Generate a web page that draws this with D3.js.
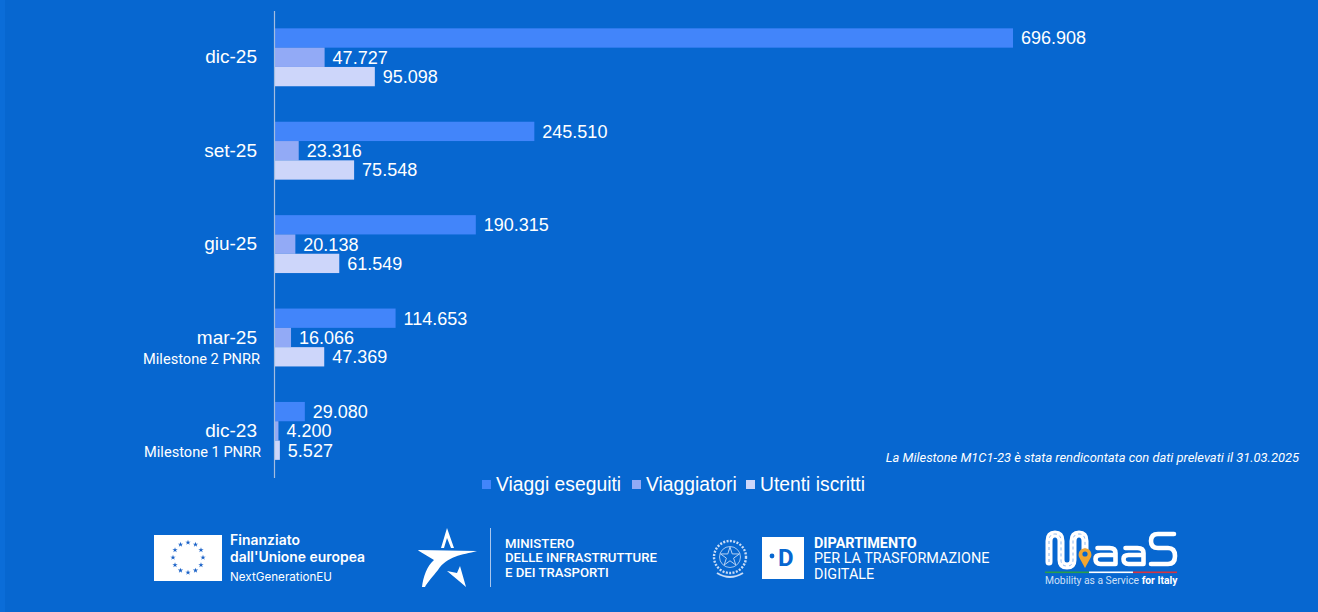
<!DOCTYPE html>
<html lang="it">
<head>
<meta charset="utf-8">
<script src="https://cdn.jsdelivr.net/npm/d3@7/dist/d3.min.js"></script>
<style>
  html, body { margin: 0; padding: 0; background: #0767d0; }
  svg { display: block; }
  text { fill: #fff; }
</style>
</head>
<body>
<svg id="chart" width="1318" height="612"></svg>
<script>
// Adesioni alla piattaforma MaaS per trimestre
const periods = ["dic-25", "set-25", "giu-25", "mar-25", "dic-23"];
const seriesNames = ["Viaggi eseguiti", "Viaggiatori", "Utenti iscritti"];
const viaggiEseguiti = [696908, 245510, 190315, 114653, 29080];
const viaggiatori = [47727, 23316, 20138, 16066, 4200];
const utentiIscritti = [95098, 75548, 61549, 47369, 5527];
const seriesValues = [viaggiEseguiti, viaggiatori, utentiIscritti];
const seriesColors = ["#4285fa", "#92aaf6", "#cdd6fa"];
const milestoneLabels = [
  { period: "mar-25", text: "Milestone 2 PNRR" },
  { period: "dic-23", text: "Milestone 1 PNRR" }
];
const footnote = "La Milestone M1C1-23 è stata rendicontata con dati prelevati il 31.03.2025";

const ARIAL = "'Liberation Sans', Arial, sans-serif";
const TITILLIUM = "Roboto, 'Noto Sans', sans-serif";
const itNumber = d3.formatLocale({ decimal: ",", thousands: ".", grouping: [3], currency: ["€", ""] }).format(",d");

const svg = d3.select("#chart");
svg.append("rect").attr("width", 1318).attr("height", 612).attr("fill", "#0767d0");
svg.append("rect").attr("width", 5).attr("height", 612).attr("fill", "#0b6dd8");

const x = d3.scaleLinear().domain([0, 696908]).range([274, 1013]);
const y = d3.scaleBand().domain(periods).range([10.6, 477.6]).paddingInner(0.38).paddingOuter(0.19);
const yInner = d3.scaleBand().domain(seriesNames).range([0, y.bandwidth()]);

// Barre raggruppate con etichetta del valore
const groups = svg.append("g").selectAll("g").data(periods).join("g")
  .attr("transform", d => `translate(0,${y(d)})`);

seriesNames.forEach((name, s) => {
  groups.append("rect")
    .attr("x", x(0))
    .attr("y", yInner(name))
    .attr("width", (d, i) => x(seriesValues[s][i]) - x(0))
    .attr("height", yInner.bandwidth())
    .attr("fill", seriesColors[s]);
  groups.append("text")
    .attr("x", (d, i) => x(seriesValues[s][i]) + 8)
    .attr("y", yInner(name) + yInner.bandwidth() / 2)
    .attr("dy", "0.36em")
    .attr("font-family", ARIAL)
    .attr("font-size", 18)
    .text((d, i) => itNumber(seriesValues[s][i]));
});

// Asse delle categorie
const axis = svg.append("g")
  .attr("transform", `translate(${x(0)},0)`)
  .call(d3.axisLeft(y).tickSize(0).tickPadding(17));
axis.select(".domain").attr("stroke", "#a4bde0").attr("stroke-width", 1.2);
axis.selectAll("text")
  .attr("font-family", ARIAL)
  .attr("font-size", 19)
  .attr("fill", "#fff");

// Sottotitoli delle milestone sotto la categoria
svg.append("g").selectAll("text").data(milestoneLabels).join("text")
  .attr("x", (d, i) => i === 0 ? 260 : 261)
  .attr("y", d => y(d.period) + y.bandwidth() / 2 + 26)
  .attr("text-anchor", "end")
  .attr("font-family", TITILLIUM)
  .attr("font-size", 14.6)
  .attr("fill", "#dfe9fa")
  .text(d => d.text);

svg.append("text")
  .attr("x", 1299).attr("y", 462)
  .attr("text-anchor", "end")
  .attr("font-family", TITILLIUM)
  .attr("font-style", "italic")
  .attr("font-size", 12.9)
  .text(footnote);

// Legenda
const legendItems = [
  { name: seriesNames[0], sw: 482, tx: 496 },
  { name: seriesNames[1], sw: 632, tx: 646 },
  { name: seriesNames[2], sw: 746, tx: 760 }
];
const legend = svg.append("g").selectAll("g").data(legendItems).join("g");
legend.append("rect")
  .attr("x", d => d.sw).attr("y", 480).attr("width", 9).attr("height", 9)
  .attr("fill", (d, i) => seriesColors[i]);
legend.append("text")
  .attr("x", d => d.tx).attr("y", 491)
  .attr("font-family", ARIAL).attr("font-size", 19.3)
  .text(d => d.name);

// Loghi del piede di pagina
const logos = svg.append("g");

// Bandiera UE con dodici stelle
const euStars = d3.range(12);
logos.append("rect").attr("x", 154).attr("y", 535).attr("width", 68).attr("height", 46).attr("fill", "#fff");
logos.append("g").selectAll("path").data(euStars).join("path")
  .attr("d", d3.symbol(d3.symbolStar, 9))
  .attr("fill", "#1a62c8")
  .attr("transform", d => {
    const a = d / 12 * 2 * Math.PI;
    return `translate(${188 + 15 * Math.sin(a)},${557.5 - 15 * Math.cos(a)})`;
  });
const euText = logos.append("g").attr("font-family", "Inter, Roboto, sans-serif");
euText.append("text").attr("x", 230).attr("y", 545).attr("font-size", 13.9).attr("font-weight", 600).attr("textLength", 70).text("Finanziato");
euText.append("text").attr("x", 230).attr("y", 562).attr("font-size", 13.9).attr("font-weight", 600).attr("textLength", 135).text("dall'Unione europea");
euText.append("text").attr("x", 230).attr("y", 581).attr("font-size", 11.6).attr("fill", "#e0ebfb").attr("textLength", 102).text("NextGenerationEU");

// Stella del Ministero
const mit = logos.append("g").attr("fill", "#fff");
mit.append("path").attr("d", "M447 528 L454 548 L451 548 L447 538 L444 548 L441 548 Z");
mit.append("path").attr("d", "M418 550 L477 551 C462 555 447 556 438 570 C433 576 427 583 425 587 L422 587 C423 577 427 566 434 560 L419 551 Z");
mit.append("path").attr("d", "M447 571 L457 573 L460 566 L466 587 L459 581 Z");
logos.append("rect").attr("x", 490).attr("y", 528).attr("width", 1).attr("height", 59).attr("fill", "#a9c6ee");
const mitText = logos.append("g").attr("font-family", TITILLIUM).attr("font-weight", 500).attr("font-size", 13.2);
mitText.append("text").attr("x", 505).attr("y", 548).text("MINISTERO");
mitText.append("text").attr("x", 505).attr("y", 562).text("DELLE INFRASTRUTTURE");
mitText.append("text").attr("x", 505).attr("y", 577).text("E DEI TRASPORTI");

// Emblema della Repubblica
const emblem = logos.append("g").attr("transform", "translate(730,557)").attr("fill", "none").attr("stroke", "#c9dcf6");
emblem.append("circle").attr("r", 16).attr("stroke-width", 2.4).attr("stroke-dasharray", "2 1.4");
emblem.append("circle").attr("r", 10.5).attr("stroke-width", 0.8);
emblem.append("path").attr("d", d3.symbol(d3.symbolStar, 110)).attr("stroke-width", 0.9);
emblem.append("path").attr("d", "M-13 16 Q0 24 13 16").attr("stroke-width", 2);

// Marchio del Dipartimento
logos.append("rect").attr("x", 762).attr("y", 537).attr("width", 42).attr("height", 42).attr("fill", "#fff");
logos.append("circle").attr("cx", 772).attr("cy", 556).attr("r", 2.4).attr("fill", "#0767d0");
logos.append("text").attr("x", 778).attr("y", 566).attr("font-family", TITILLIUM).attr("font-weight", 700)
  .attr("font-size", 24).attr("style", "fill:#0767d0").text("D");
const dtdText = logos.append("g").attr("font-family", TITILLIUM).attr("font-size", 14.4);
dtdText.append("text").attr("x", 814).attr("y", 548).attr("font-weight", 700).text("DIPARTIMENTO");
dtdText.append("text").attr("x", 814).attr("y", 563).attr("fill", "#bcd4f4").text("PER LA TRASFORMAZIONE");
dtdText.append("text").attr("x", 814).attr("y", 579).attr("fill", "#bcd4f4").text("DIGITALE");

// Marchio MaaS: strada a forma di M, segnaposto, lettere e tricolore
const maas = logos.append("g");
const roadPath = "M1049 562 V541 Q1049 534 1055 534 Q1061 534 1061 541 V560 Q1061 566 1067 566 Q1073 566 1073 560 V541 Q1073 534 1079 534 Q1085 534 1085 541 V549";
maas.append("path").attr("d", roadPath)
  .attr("fill", "none").attr("stroke", "#fff").attr("stroke-width", 7).attr("stroke-linecap", "round");
maas.append("path").attr("d", roadPath)
  .attr("fill", "none").attr("stroke", "#7fb0ec").attr("stroke-width", 0.9).attr("stroke-dasharray", "3 3");
maas.append("path").attr("d", "M1085 568 L1079 557 A6.4 6.4 0 1 1 1091 557 Z").attr("fill", "#f2a531");
maas.append("circle").attr("cx", 1085).attr("cy", 554).attr("r", 2.6).attr("fill", "#0767d0");
// Due lettere "a" e una "S" a tratto arrotondato
const glyphStyle = sel => sel.attr("fill", "none").attr("stroke", "#fff").attr("stroke-width", 4.6)
  .attr("stroke-linecap", "round").attr("stroke-linejoin", "round");
[1095.5, 1123.5].forEach(ox => {
  maas.append("path").call(glyphStyle)
    .attr("d", `M${ox + 2} 548 H${ox + 14} Q${ox + 20} 548 ${ox + 20} 553 V564 H${ox + 5} Q${ox} 564 ${ox} 559 Q${ox} 555 ${ox + 5} 555 H${ox + 20}`);
});
maas.append("path").call(glyphStyle)
  .attr("d", "M1174 534 H1158 Q1151 534 1151 541 Q1151 548 1158 548 H1168 Q1175 548 1175 556 Q1175 564 1168 564 H1151");
[["#2a9d4a", 1045], ["#ffffff", 1089], ["#d8343f", 1133]].forEach(([c, start]) => {
  maas.append("rect").attr("x", start).attr("y", 571.5).attr("width", 44).attr("height", 1.6).attr("fill", c);
});
const maasLine = maas.append("text").attr("x", 1045).attr("y", 584).attr("font-family", TITILLIUM).attr("font-size", 10.3);
maasLine.append("tspan").attr("fill", "#cfe0f8").text("Mobility as a Service ");
maasLine.append("tspan").attr("font-weight", 700).text("for Italy");
</script>
</body>
</html>
